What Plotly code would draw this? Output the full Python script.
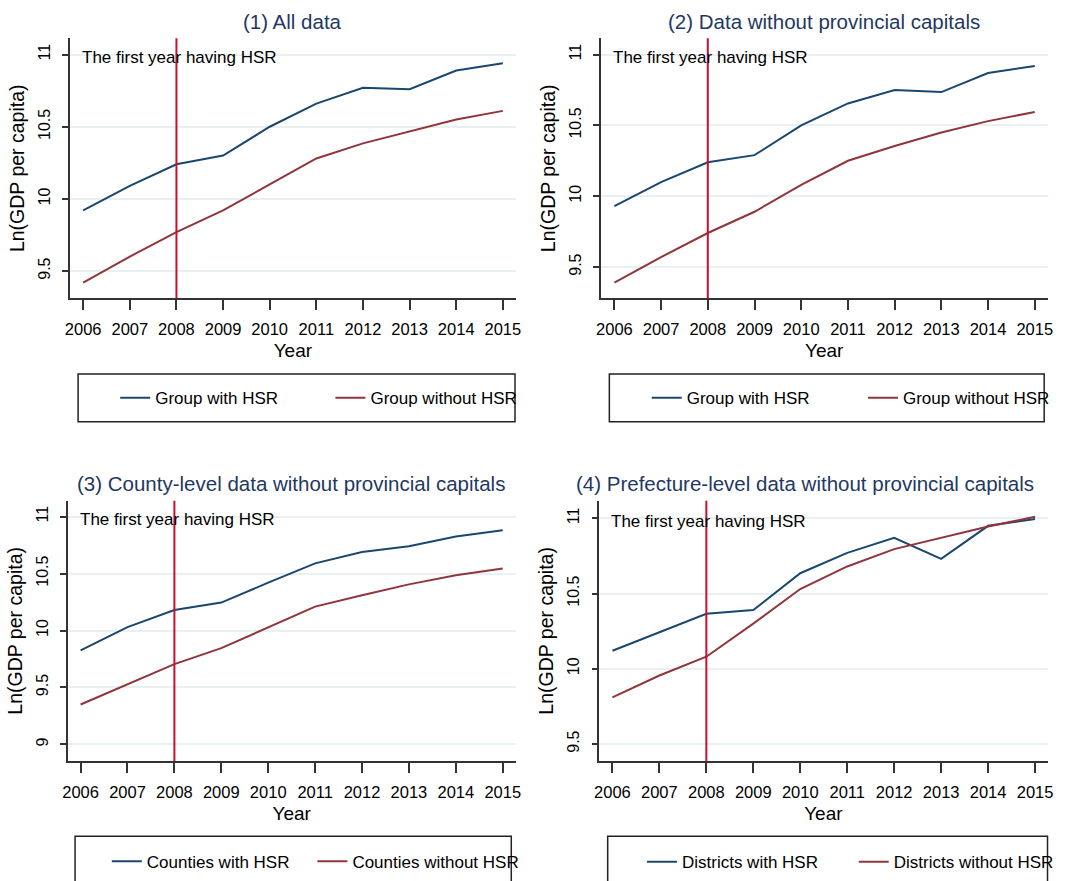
import plotly.graph_objects as go

# ---- data -------------------------------------------------------------
years = [2006, 2007, 2008, 2009, 2010, 2011, 2012, 2013, 2014, 2015]
HSR_YEAR = 2008

# (1) All data
all_with = [9.92, 10.09, 10.24, 10.30, 10.50, 10.66, 10.77, 10.76, 10.89, 10.94]
all_without = [9.42, 9.60, 9.77, 9.92, 10.10, 10.28, 10.385, 10.465, 10.55, 10.61]

# (2) Data without provincial capitals
noncap_with = [9.93, 10.10, 10.24, 10.29, 10.50, 10.655, 10.75, 10.735, 10.87, 10.92]
noncap_without = [9.39, 9.57, 9.74, 9.89, 10.08, 10.25, 10.355, 10.45, 10.53, 10.595]

# (3) County-level data without provincial capitals
county_with = [9.825, 10.03, 10.18, 10.245, 10.42, 10.59, 10.69, 10.74, 10.825, 10.88]
county_without = [9.35, 9.53, 9.705, 9.845, 10.03, 10.21, 10.31, 10.405, 10.485, 10.545]

# (4) Prefecture-level data without provincial capitals
pref_with = [10.12, 10.24, 10.365, 10.39, 10.635, 10.77, 10.87, 10.73, 10.95, 10.995]
pref_without = [9.81, 9.955, 10.08, 10.30, 10.53, 10.68, 10.795, 10.87, 10.945, 11.01]

titles = [
    "(1) All data",
    "(2) Data without provincial capitals",
    "(3) County-level data without provincial capitals",
    "(4) Prefecture-level data without provincial capitals",
]
legend_names = [
    ("Group with HSR", "Group without HSR"),
    ("Group with HSR", "Group without HSR"),
    ("Counties with HSR", "Counties without HSR"),
    ("Districts with HSR", "Districts without HSR"),
]
y_ticks = [
    [9.5, 10, 10.5, 11],
    [9.5, 10, 10.5, 11],
    [9, 9.5, 10, 10.5, 11],
    [9.5, 10, 10.5, 11],
]
y_ticktext = [[("%g" % v) for v in t] for t in y_ticks]
annotation_text = "The first year having HSR"

series = [
    (all_with, all_without),
    (noncap_with, noncap_without),
    (county_with, county_without),
    (pref_with, pref_without),
]

# ---- styling / layout -------------------------------------------------
W, H = 1080, 881
FONT = "Arial, Liberation Sans, sans-serif"
BLUE = "#1a476f"
RED = "#90353b"
VLINE = "#c8102e"
TITLE_C = "#1f3864"
AXIS_C = "#333333"
GRID_C = "#e8f0f2"

# plot-area pixel boxes: (left, right, top, bottom)
boxes = [
    (66.5, 521.7, 38.3, 298.3),
    (608.9, 1065.2, 38.3, 298.3),
    (64.1, 521.7, 500.7, 761.0),
    (607.2, 1065.2, 500.7, 761.0),
]
x_ranges = [
    [2005.719, 2015.273],
    [2005.712, 2015.273],
    [2005.726, 2015.274],
    [2005.72, 2015.265],
]
y_ranges = [
    [9.311, 11.113],
    [9.279, 11.115],
    [8.854, 11.14],
    [9.387, 11.117],
]
title_pos = [(294.1, 21.7), (837.0, 21.7), (292.7, 483.3), (817.2, 483.3)]
legend_boxes = [(74.7, 521.1, 374, 421.7), (617.5, 1061.8, 374, 421.7),
                (71.6, 517.3, 836.3, 884.7), (615.8, 1065.2, 836.3, 884.7)]
legend_text_x = [152.6, 695.7, 144.0, 690.8]
legend_text_y = [398.3, 398.3, 861.7, 862.3]
legend_step = [215.2, 216.2, 205.6, 211.8]


def px_x(v):
    return v / W


def px_y(v):
    return 1 - v / H


fig = go.Figure()
layout = dict(
    width=W, height=H,
    margin=dict(l=0, r=0, t=0, b=0),
    paper_bgcolor="white", plot_bgcolor="white",
    font=dict(family=FONT, size=16, color="black"),
    showlegend=True,
)
shapes = []
annotations = []

for i in range(4):
    k = "" if i == 0 else str(i + 1)
    xa, ya = "x" + k, "y" + k
    leg = "legend" + k
    left, right, top, bottom = boxes[i]
    y_with, y_without = series[i]
    n_with, n_without = legend_names[i]

    fig.add_trace(go.Scatter(x=years, y=y_with, mode="lines", name=n_with,
                             line=dict(color=BLUE, width=2),
                             xaxis=xa, yaxis=ya, legend=leg))
    fig.add_trace(go.Scatter(x=years, y=y_without, mode="lines", name=n_without,
                             line=dict(color=RED, width=2),
                             xaxis=xa, yaxis=ya, legend=leg))

    layout["xaxis" + k] = dict(
        domain=[px_x(left), px_x(right)], anchor=ya,
        range=x_ranges[i], tickvals=years, ticktext=[str(y) for y in years],
        ticks="outside", ticklen=10, tickwidth=1.5, tickcolor=AXIS_C,
        showline=True, linecolor=AXIS_C, linewidth=1.5,
        showgrid=False, zeroline=False,
        tickfont=dict(size=16.5, color="black"), ticklabelstandoff=5,
        title=dict(text="Year", font=dict(size=19, color="black"), standoff=7),
        fixedrange=True,
    )
    layout["yaxis" + k] = dict(
        domain=[px_y(bottom), px_y(top)], anchor=xa,
        range=y_ranges[i], tickvals=y_ticks[i], ticktext=y_ticktext[i],
        tickangle=-90,
        ticks="outside", ticklen=6, tickwidth=1.5, tickcolor=AXIS_C,
        showline=True, linecolor=AXIS_C, linewidth=1.5,
        showgrid=True, gridcolor=GRID_C, gridwidth=1.5, zeroline=False,
        tickfont=dict(size=16, color="black"), ticklabelstandoff=6,
        title=dict(text="Ln(GDP per capita)", font=dict(size=19.5, color="black"),
                   standoff=6),
        fixedrange=True,
    )

    # first HSR year marker
    shapes.append(dict(type="line", xref=xa, yref=ya + " domain",
                       x0=HSR_YEAR, x1=HSR_YEAR, y0=0, y1=1,
                       line=dict(color=VLINE, width=2), layer="above"))
    annotations.append(dict(text=annotation_text, xref=xa, yref=ya,
                            x=years[0], y=11, xanchor="left", yanchor="middle",
                            xshift=-3, yshift=-3, showarrow=False,
                            font=dict(size=17, color="black")))

    # panel title
    tx, ty = title_pos[i]
    annotations.append(dict(text=titles[i], xref="paper", yref="paper",
                            x=px_x(tx), y=px_y(ty), xanchor="center",
                            yanchor="middle", showarrow=False,
                            font=dict(size=20.5, color=TITLE_C)))

    # legend frame and legend
    lx0, lx1, ly0, ly1 = legend_boxes[i]
    shapes.append(dict(type="rect", xref="paper", yref="paper",
                       x0=px_x(lx0), x1=px_x(lx1), y0=px_y(ly1), y1=px_y(ly0),
                       line=dict(color="#222222", width=1.5),
                       fillcolor="rgba(0,0,0,0)", layer="below"))
    layout[leg] = dict(
        orientation="h", xanchor="left", yanchor="middle",
        x=px_x(legend_text_x[i] - 40), y=px_y(legend_text_y[i]),
        entrywidth=legend_step[i] - 45, entrywidthmode="pixels",
        bgcolor="rgba(0,0,0,0)", borderwidth=0,
        font=dict(size=17, color="black"),
    )

layout["shapes"] = shapes
layout["annotations"] = annotations
fig.update_layout(**layout)

fig.write_html("out.html")
